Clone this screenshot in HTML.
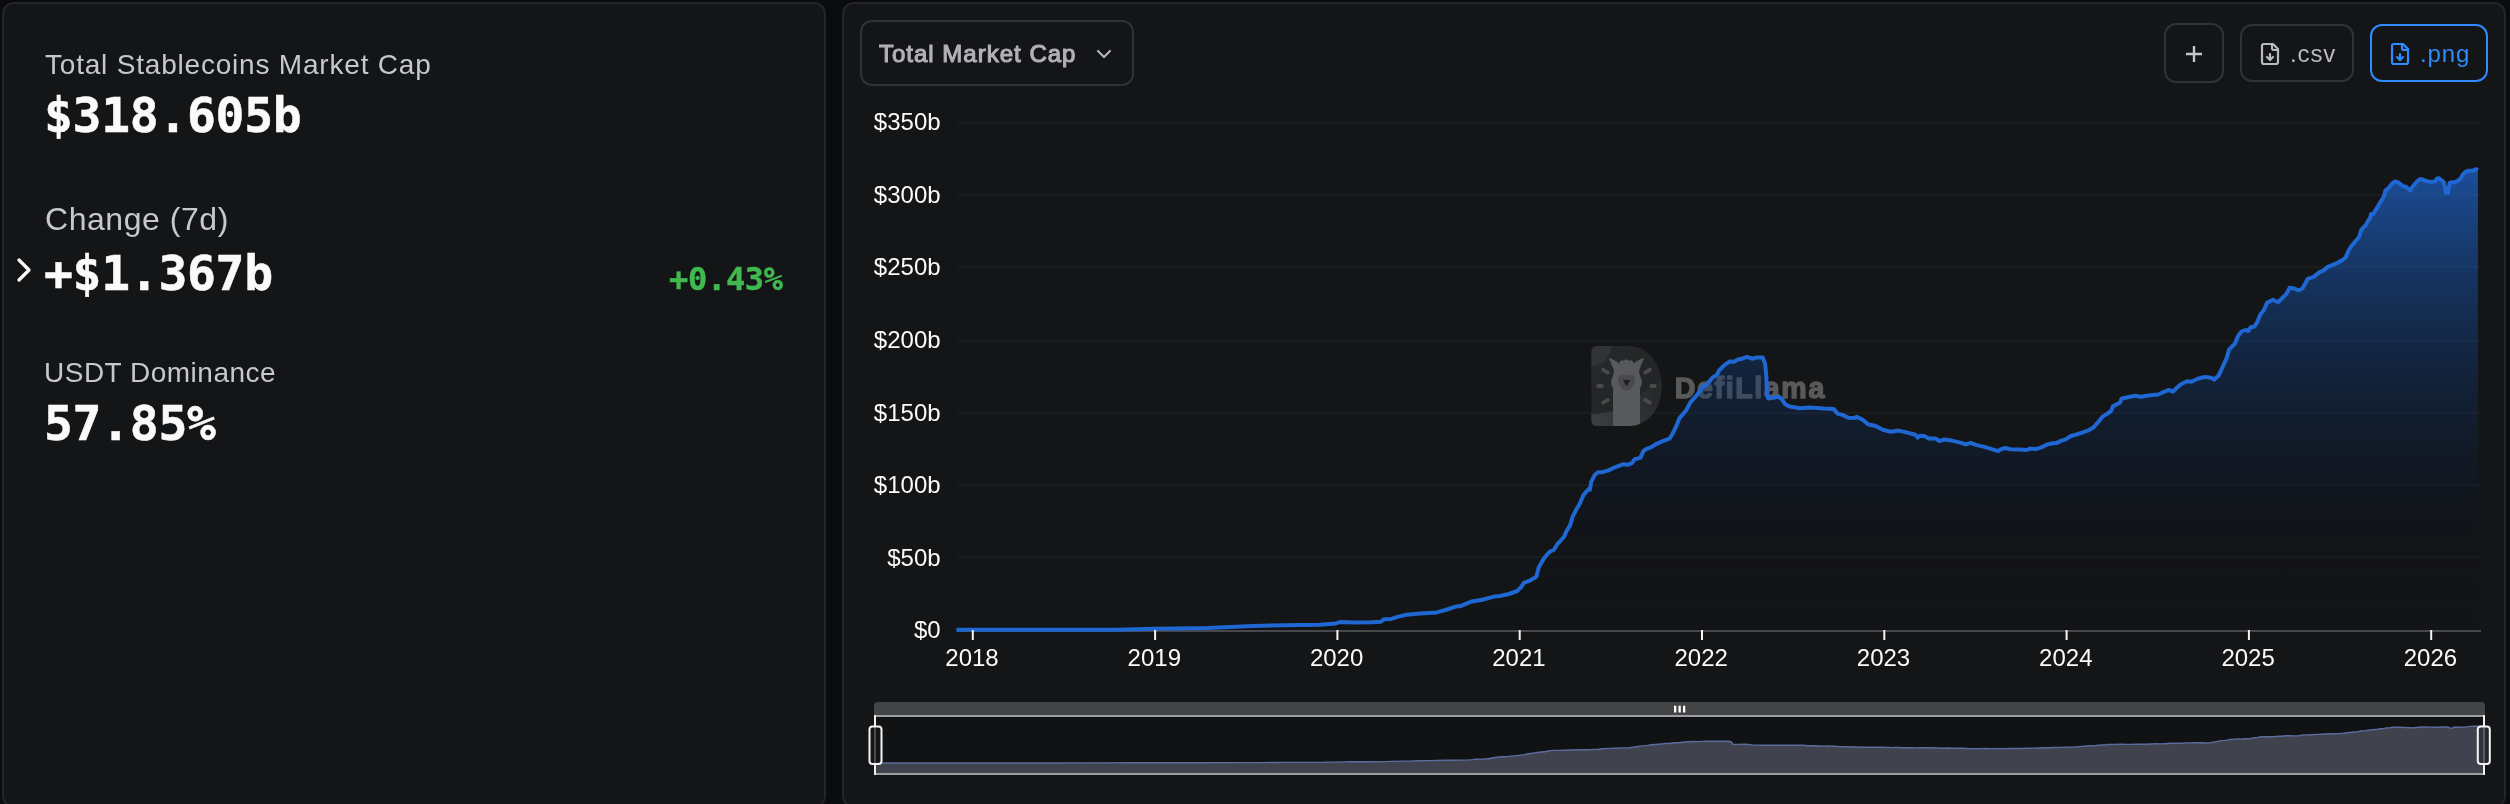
<!DOCTYPE html>
<html lang="en">
<head>
<meta charset="utf-8">
<title>Stablecoins - DefiLlama</title>
<style>
html,body{margin:0;padding:0;}
body{width:2510px;height:804px;overflow:hidden;position:relative;background:#0a0b0d;font-family:"Liberation Sans",sans-serif;color:#fafafa;}
.card{position:absolute;top:2px;height:806px;box-sizing:border-box;border:2px solid #232527;border-radius:12px;background:#141517;}
#left{left:2px;width:824px;}
#right{left:842px;width:1664px;}
.t{position:absolute;white-space:nowrap;line-height:1;will-change:transform;}
.lbl{font-family:"Liberation Sans",sans-serif;color:#c6c8cb;font-weight:400;}
.num{font-family:"DejaVu Sans Mono","Liberation Mono",monospace;font-weight:700;color:#fafafa;font-size:48px;letter-spacing:-0.3px;-webkit-text-stroke:0.5px #fafafa;}
.btn{position:absolute;box-sizing:border-box;border:2px solid #2f3336;border-radius:12px;color:#b4b6ba;}
svg{position:absolute;left:0;top:0;}
svg text{font-family:"Liberation Sans",sans-serif;}
</style>
</head>
<body>
<div class="card" id="left"></div>
<div class="card" id="right"></div>

<!-- left stats -->
<div class="t lbl" id="l1" style="left:45px;top:51.2px;font-size:28px;letter-spacing:0.8px;">Total Stablecoins Market Cap</div>
<div class="t num" id="n1" style="left:43.5px;top:90.5px;">$318.605b</div>

<svg id="chev" width="40" height="40" viewBox="0 0 24 24" style="left:4px;top:250px" fill="none" stroke="#fafafa" stroke-width="2" stroke-linecap="round" stroke-linejoin="round"><path d="m9 18 6-6-6-6"/></svg>
<div class="t lbl" id="l2" style="left:44.500px;top:202.5px;font-size:32px;letter-spacing:0.54px;">Change (7d)</div>
<div class="t num" id="n2" style="left:44px;top:248.5px;">+$1.367b</div>
<div class="t num" id="p2" style="left:669px;top:263px;font-size:32px;color:#3fb950;-webkit-text-stroke:0.4px #3fb950;">+0.43%</div>

<div class="t lbl" id="l3" style="left:44px;top:359.1px;font-size:28px;letter-spacing:0.5px;">USDT Dominance</div>
<div class="t num" id="n3" style="left:43.5px;top:398.5px;">57.85%</div>

<!-- toolbar -->
<div class="btn" id="sel" style="left:860px;top:20px;width:274px;height:66px;">
  <div class="t" id="seltxt" style="left:17px;top:19.5px;font-size:24px;font-weight:400;letter-spacing:1.0px;color:#b1b2b4;-webkit-text-stroke:1.1px #b1b2b4;">Total Market Cap</div>
  <svg width="24" height="24" viewBox="0 0 24 24" style="left:229.5px;top:19.5px" fill="none" stroke="#b1b2b4" stroke-width="2.2" stroke-linecap="round" stroke-linejoin="round"><path d="m6 9 6 6 6-6"/></svg>
</div>
<div class="btn" id="plus" style="left:2164px;top:23px;width:60px;height:60px;">
  <svg width="24" height="24" viewBox="0 0 24 24" style="left:16px;top:16.5px" fill="none" stroke="#c4c6c9" stroke-width="2.4" stroke-linecap="butt"><path d="M4 12h16M12 4v16"/></svg>
</div>
<div class="btn" id="csv" style="left:2240px;top:24px;width:114px;height:58px;">
  <svg width="24" height="24" viewBox="0 0 24 24" style="left:16px;top:16px" fill="none" stroke="#b8babd" stroke-width="2.2" stroke-linecap="round" stroke-linejoin="round"><path d="M15 2H6a2 2 0 0 0-2 2v16a2 2 0 0 0 2 2h12a2 2 0 0 0 2-2V7Z"/><path d="M14 2v4a2 2 0 0 0 2 2h4"/><path d="M12 18v-6"/><path d="m9 15 3 3 3-3"/></svg>
  <div class="t" id="csvtxt" style="left:47.500px;top:15.5px;font-size:24px;letter-spacing:0.9px;color:#b8babd;">.csv</div>
</div>
<div class="btn" id="png" style="left:2370px;top:24px;width:118px;height:58px;border-color:#2f8bff;color:#2f8bff;">
  <svg width="24" height="24" viewBox="0 0 24 24" style="left:16px;top:16px" fill="none" stroke="#2f8bff" stroke-width="2.2" stroke-linecap="round" stroke-linejoin="round"><path d="M15 2H6a2 2 0 0 0-2 2v16a2 2 0 0 0 2 2h12a2 2 0 0 0 2-2V7Z"/><path d="M14 2v4a2 2 0 0 0 2 2h4"/><path d="M12 18v-6"/><path d="m9 15 3 3 3-3"/></svg>
  <div class="t" id="pngtxt" style="left:47.500px;top:15.5px;font-size:24px;letter-spacing:0.9px;color:#2f8bff;">.png</div>
</div>

<!-- chart -->
<svg id="chart" width="2510" height="804" viewBox="0 0 2510 804">
<defs>
<linearGradient id="ag" gradientUnits="userSpaceOnUse" x1="0" y1="169" x2="0" y2="631">
<stop offset="0" stop-color="#1f67d2" stop-opacity="0.7"/>
<stop offset="1" stop-color="#000000" stop-opacity="0"/>
</linearGradient>
<linearGradient id="dg" gradientUnits="userSpaceOnUse" x1="1591" y1="346" x2="1661" y2="426">
<stop offset="0" stop-color="#28292b"/><stop offset="1" stop-color="#202224"/>
</linearGradient>
<linearGradient id="dg2" gradientUnits="userSpaceOnUse" x1="1595" y1="426" x2="1650" y2="385">
<stop offset="0" stop-color="#3b3d3e"/><stop offset="1" stop-color="#28292b"/>
</linearGradient>
<clipPath id="dclip"><path d="M1597,346 H1628 C1649,346 1661.5,364 1661.5,386 C1661.5,408 1649,426 1628,426 H1597 Q1591.4,426 1591.4,420 V352 Q1591.4,346 1597,346 Z"/></clipPath>
</defs>
<g id="grid">
<rect x="957" y="122" width="1524" height="2" fill="#1b1c1f"/>
<rect x="957" y="194" width="1524" height="2" fill="#1b1c1f"/>
<rect x="957" y="266" width="1524" height="2" fill="#1b1c1f"/>
<rect x="957" y="340" width="1524" height="2" fill="#1b1c1f"/>
<rect x="957" y="412" width="1524" height="2" fill="#1b1c1f"/>
<rect x="957" y="484" width="1524" height="2" fill="#1b1c1f"/>
<rect x="957" y="556" width="1524" height="2" fill="#1b1c1f"/>
</g>
<g id="ylab" font-size="24" fill="#fafafa">
<text x="940.6" y="130.3" text-anchor="end">$350b</text>
<text x="940.6" y="202.9" text-anchor="end">$300b</text>
<text x="940.6" y="275.4" text-anchor="end">$250b</text>
<text x="940.6" y="348.0" text-anchor="end">$200b</text>
<text x="940.6" y="420.6" text-anchor="end">$150b</text>
<text x="940.6" y="493.2" text-anchor="end">$100b</text>
<text x="940.6" y="565.7" text-anchor="end">$50b</text>
<text x="940.6" y="638.3" text-anchor="end">$0</text>
</g>
<!-- watermark -->
<g id="wm">
<g clip-path="url(#dclip)">
<rect x="1591" y="346" width="71" height="80" fill="url(#dg)"/>
<circle cx="1591" cy="346" r="20" fill="#313335"/>
<path d="M1591,414 C1606,413.500 1619,410 1629,403 L1662,379 V427 H1591 Z" fill="url(#dg2)"/>
<g stroke="#484a4b" stroke-width="3.8" stroke-linecap="round">
<path d="M1603.2,369.8 L1607.8,372.6"/><path d="M1598.3,386 L1601.7,386"/><path d="M1603.2,402.7 L1607.8,399.9"/>
<path d="M1649.8,369.8 L1645.2,372.6"/><path d="M1654.7,386 L1651.3,386"/><path d="M1649.8,402.7 L1645.2,399.9"/>
</g>
<path d="M1613,427 V388 C1611,386 1610.500,381 1612,378.500 C1613,376 1614,373 1613.800,370 L1608.900,358 C1612,358.500 1617,361.500 1619.200,363.500 C1620,360.500 1622.500,359.500 1624,361 C1625,359 1628,359 1629,361 C1630.500,359.500 1633,360.500 1633.800,363.500 C1636,361.500 1641,358.500 1644.100,358 L1639.200,370 C1639,373 1640,376 1641,378.500 C1642.500,381 1642,386 1640,388 V427 Z" fill="#57595a"/>
<path d="M1618.500,376 C1620,374.500 1622,376 1623,375 C1624.500,374 1626,375.500 1626.500,375.500 C1627,375.500 1628.500,374 1630,375 C1631,376 1633,374.500 1634.500,376 C1636,381 1633,390.500 1626.500,390.500 C1620,390.500 1617,381 1618.500,376 Z" fill="#48494b"/>
<path d="M1622.900,380 H1630.400 L1626.600,386.200 Z" fill="#1c1d1f"/>
</g>
<text id="wmt" x="1674.8" y="398" font-size="28.6" font-weight="700" fill="#58595a" stroke="#58595a" stroke-width="1.4" stroke-linejoin="round" textLength="149.5" lengthAdjust="spacing">DefiLlama</text>
</g>
<rect x="957" y="630" width="1524" height="2" fill="#47484b"/>
<path id="area" d="M956.4,629.8 L1116.5,629.8 L1154.4,628.8 L1207.4,628.0 L1252.8,626.0 L1300.0,624.9 L1320.0,624.7 L1335.7,623.4 L1340.0,622.1 L1354.8,622.4 L1372.2,622.2 L1380.9,621.8 L1384.0,619.2 L1391.4,618.9 L1398.4,616.6 L1406.2,614.8 L1420.1,613.5 L1436.7,612.4 L1445.4,610.0 L1455.8,606.6 L1461.0,605.9 L1470.6,601.8 L1481.1,600.0 L1494.1,596.6 L1500.0,596.0 L1509.0,594.0 L1517.2,591.0 L1520.9,587.3 L1523.9,582.8 L1529.9,580.6 L1535.1,577.6 L1536.6,576.1 L1538.8,567.2 L1544.0,558.2 L1548.5,553.0 L1550.0,551.5 L1553.7,550.0 L1557.5,544.0 L1564.2,536.6 L1566.4,531.3 L1570.1,525.4 L1572.5,517.0 L1575.6,510.8 L1579.3,504.6 L1583.7,494.6 L1588.7,489.0 L1589.9,489.7 L1591.1,482.2 L1594.9,474.7 L1598.0,472.2 L1602.3,472.2 L1608.6,470.4 L1614.8,467.3 L1623.5,464.2 L1627.8,464.8 L1632.2,462.9 L1634.7,459.2 L1640.3,457.9 L1643.4,451.1 L1645.9,449.2 L1650.8,447.4 L1655.8,444.3 L1662.7,441.1 L1669.5,438.7 L1672.6,433.7 L1675.7,427.5 L1679.3,418.4 L1686.2,410.3 L1690.5,402.2 L1696.7,395.3 L1701.1,389.1 L1702.3,386.6 L1706.1,385.4 L1712.9,377.3 L1716.6,375.4 L1719.1,370.5 L1724.7,364.9 L1729.7,361.4 L1734.1,361.8 L1738.4,359.3 L1742.1,358.7 L1747.1,356.8 L1752.1,358.7 L1757.1,357.4 L1762.7,357.4 L1765.1,363.6 L1766.4,377.3 L1767.0,394.7 L1768.3,398.5 L1773.2,397.8 L1778.2,396.6 L1781.9,399.1 L1785.0,404.1 L1789.4,406.5 L1794.4,407.2 L1799.0,408.2 L1810.1,407.4 L1823.6,408.5 L1833.6,408.9 L1837.6,413.6 L1842.6,414.9 L1848.2,417.8 L1854.4,418.1 L1856.6,416.7 L1862.7,419.7 L1868.3,424.5 L1875.1,425.7 L1882.9,429.8 L1890.7,431.7 L1898.6,430.6 L1906.4,432.4 L1915.3,434.8 L1917.6,437.6 L1919.8,435.7 L1924.3,436.0 L1928.8,438.4 L1935.5,438.4 L1939.4,441.0 L1944.4,439.5 L1951.2,440.4 L1961.2,442.9 L1965.7,444.4 L1970.7,442.9 L1975.7,444.9 L1983.6,446.6 L1992.5,449.4 L1998.1,451.1 L2000.4,449.4 L2005.4,448.0 L2010.5,449.2 L2019.4,449.4 L2026.7,450.0 L2030.0,448.6 L2036.2,449.1 L2041.8,447.2 L2047.4,444.4 L2053.0,443.2 L2056.9,442.9 L2061.9,440.4 L2065.3,439.6 L2070.9,436.0 L2076.5,434.5 L2082.1,432.6 L2087.7,430.7 L2093.3,427.6 L2097.8,422.5 L2102.2,416.9 L2106.7,414.1 L2111.2,410.8 L2112.9,406.3 L2116.2,404.6 L2120.2,402.4 L2121.5,398.8 L2127.5,397.2 L2134.9,395.7 L2140.9,396.7 L2149.9,395.2 L2158.1,394.5 L2163.3,392.2 L2168.5,390.0 L2173.0,391.5 L2176.0,388.5 L2181.2,384.0 L2187.2,381.3 L2191.6,381.8 L2197.6,378.8 L2205.1,376.9 L2211.0,377.8 L2214.0,379.6 L2218.5,375.8 L2223.0,366.1 L2226.7,357.9 L2229.0,349.7 L2231.9,346.7 L2234.9,343.7 L2237.9,336.3 L2241.6,331.5 L2245.4,330.0 L2248.4,331.0 L2250.6,327.3 L2254.3,326.6 L2257.3,322.1 L2260.3,314.6 L2264.0,310.1 L2267.0,302.7 L2273.0,299.7 L2278.2,302.2 L2284.2,296.0 L2286.0,294.5 L2289.7,287.8 L2294.2,288.5 L2298.7,290.3 L2302.4,288.5 L2305.4,283.3 L2307.6,278.8 L2313.6,276.9 L2319.6,272.1 L2323.3,270.6 L2327.8,266.9 L2335.2,263.9 L2341.2,260.9 L2345.7,257.5 L2347.9,251.9 L2350.9,246.7 L2354.6,242.2 L2359.1,237.0 L2361.3,229.6 L2365.8,225.1 L2368.1,220.6 L2370.3,217.6 L2371.0,213.9 L2373.3,213.9 L2377.0,207.9 L2380.5,202.0 L2383.8,196.8 L2385.3,190.8 L2388.7,187.8 L2392.0,183.7 L2394.7,181.5 L2398.4,182.5 L2401.0,184.5 L2402.9,186.3 L2405.9,186.7 L2408.8,189.3 L2410.7,190.4 L2412.6,186.7 L2416.3,182.2 L2419.7,179.3 L2422.3,179.3 L2426.7,181.1 L2430.5,181.9 L2435.0,181.5 L2436.8,178.9 L2438.7,178.1 L2441.3,180.0 L2443.9,182.2 L2445.0,187.8 L2445.8,192.7 L2448.0,193.1 L2448.8,187.8 L2449.5,183.0 L2452.1,182.2 L2455.1,182.2 L2458.1,180.4 L2460.7,178.5 L2462.9,174.4 L2465.6,171.8 L2468.5,170.7 L2473.0,170.5 L2476.7,169.2 L2477.9,169.9 L2477.9,631 L956.4,631 Z" fill="url(#ag)"/>
<path id="line" d="M956.4,629.8 L1116.5,629.8 L1154.4,628.8 L1207.4,628.0 L1252.8,626.0 L1300.0,624.9 L1320.0,624.7 L1335.7,623.4 L1340.0,622.1 L1354.8,622.4 L1372.2,622.2 L1380.9,621.8 L1384.0,619.2 L1391.4,618.9 L1398.4,616.6 L1406.2,614.8 L1420.1,613.5 L1436.7,612.4 L1445.4,610.0 L1455.8,606.6 L1461.0,605.9 L1470.6,601.8 L1481.1,600.0 L1494.1,596.6 L1500.0,596.0 L1509.0,594.0 L1517.2,591.0 L1520.9,587.3 L1523.9,582.8 L1529.9,580.6 L1535.1,577.6 L1536.6,576.1 L1538.8,567.2 L1544.0,558.2 L1548.5,553.0 L1550.0,551.5 L1553.7,550.0 L1557.5,544.0 L1564.2,536.6 L1566.4,531.3 L1570.1,525.4 L1572.5,517.0 L1575.6,510.8 L1579.3,504.6 L1583.7,494.6 L1588.7,489.0 L1589.9,489.7 L1591.1,482.2 L1594.9,474.7 L1598.0,472.2 L1602.3,472.2 L1608.6,470.4 L1614.8,467.3 L1623.5,464.2 L1627.8,464.8 L1632.2,462.9 L1634.7,459.2 L1640.3,457.9 L1643.4,451.1 L1645.9,449.2 L1650.8,447.4 L1655.8,444.3 L1662.7,441.1 L1669.5,438.7 L1672.6,433.7 L1675.7,427.5 L1679.3,418.4 L1686.2,410.3 L1690.5,402.2 L1696.7,395.3 L1701.1,389.1 L1702.3,386.6 L1706.1,385.4 L1712.9,377.3 L1716.6,375.4 L1719.1,370.5 L1724.7,364.9 L1729.7,361.4 L1734.1,361.8 L1738.4,359.3 L1742.1,358.7 L1747.1,356.8 L1752.1,358.7 L1757.1,357.4 L1762.7,357.4 L1765.1,363.6 L1766.4,377.3 L1767.0,394.7 L1768.3,398.5 L1773.2,397.8 L1778.2,396.6 L1781.9,399.1 L1785.0,404.1 L1789.4,406.5 L1794.4,407.2 L1799.0,408.2 L1810.1,407.4 L1823.6,408.5 L1833.6,408.9 L1837.6,413.6 L1842.6,414.9 L1848.2,417.8 L1854.4,418.1 L1856.6,416.7 L1862.7,419.7 L1868.3,424.5 L1875.1,425.7 L1882.9,429.8 L1890.7,431.7 L1898.6,430.6 L1906.4,432.4 L1915.3,434.8 L1917.6,437.6 L1919.8,435.7 L1924.3,436.0 L1928.8,438.4 L1935.5,438.4 L1939.4,441.0 L1944.4,439.5 L1951.2,440.4 L1961.2,442.9 L1965.7,444.4 L1970.7,442.9 L1975.7,444.9 L1983.6,446.6 L1992.5,449.4 L1998.1,451.1 L2000.4,449.4 L2005.4,448.0 L2010.5,449.2 L2019.4,449.4 L2026.7,450.0 L2030.0,448.6 L2036.2,449.1 L2041.8,447.2 L2047.4,444.4 L2053.0,443.2 L2056.9,442.9 L2061.9,440.4 L2065.3,439.6 L2070.9,436.0 L2076.5,434.5 L2082.1,432.6 L2087.7,430.7 L2093.3,427.6 L2097.8,422.5 L2102.2,416.9 L2106.7,414.1 L2111.2,410.8 L2112.9,406.3 L2116.2,404.6 L2120.2,402.4 L2121.5,398.8 L2127.5,397.2 L2134.9,395.7 L2140.9,396.7 L2149.9,395.2 L2158.1,394.5 L2163.3,392.2 L2168.5,390.0 L2173.0,391.5 L2176.0,388.5 L2181.2,384.0 L2187.2,381.3 L2191.6,381.8 L2197.6,378.8 L2205.1,376.9 L2211.0,377.8 L2214.0,379.6 L2218.5,375.8 L2223.0,366.1 L2226.7,357.9 L2229.0,349.7 L2231.9,346.7 L2234.9,343.7 L2237.9,336.3 L2241.6,331.5 L2245.4,330.0 L2248.4,331.0 L2250.6,327.3 L2254.3,326.6 L2257.3,322.1 L2260.3,314.6 L2264.0,310.1 L2267.0,302.7 L2273.0,299.7 L2278.2,302.2 L2284.2,296.0 L2286.0,294.5 L2289.7,287.8 L2294.2,288.5 L2298.7,290.3 L2302.4,288.5 L2305.4,283.3 L2307.6,278.8 L2313.6,276.9 L2319.6,272.1 L2323.3,270.6 L2327.8,266.9 L2335.2,263.9 L2341.2,260.9 L2345.7,257.5 L2347.9,251.9 L2350.9,246.7 L2354.6,242.2 L2359.1,237.0 L2361.3,229.6 L2365.8,225.1 L2368.1,220.6 L2370.3,217.6 L2371.0,213.9 L2373.3,213.9 L2377.0,207.9 L2380.5,202.0 L2383.8,196.8 L2385.3,190.8 L2388.7,187.8 L2392.0,183.7 L2394.7,181.5 L2398.4,182.5 L2401.0,184.5 L2402.9,186.3 L2405.9,186.7 L2408.8,189.3 L2410.7,190.4 L2412.6,186.7 L2416.3,182.2 L2419.7,179.3 L2422.3,179.3 L2426.7,181.1 L2430.5,181.9 L2435.0,181.5 L2436.8,178.9 L2438.7,178.1 L2441.3,180.0 L2443.9,182.2 L2445.0,187.8 L2445.8,192.7 L2448.0,193.1 L2448.8,187.8 L2449.5,183.0 L2452.1,182.2 L2455.1,182.2 L2458.1,180.4 L2460.7,178.5 L2462.9,174.4 L2465.6,171.8 L2468.5,170.7 L2473.0,170.5 L2476.7,169.2 L2477.9,169.9" fill="none" stroke="#1f67d2" stroke-width="4" stroke-linejoin="round" stroke-linecap="butt"/>
<g id="xlab" font-size="24" fill="#fafafa">
<rect x="971.8" y="630" width="2" height="10" fill="#f4f4f5"/>
<text x="972.0" y="666.3" text-anchor="middle">2018</text>
<rect x="1154.1" y="630" width="2" height="10" fill="#f4f4f5"/>
<text x="1154.3" y="666.3" text-anchor="middle">2019</text>
<rect x="1336.4" y="630" width="2" height="10" fill="#f4f4f5"/>
<text x="1336.6" y="666.3" text-anchor="middle">2020</text>
<rect x="1518.7" y="630" width="2" height="10" fill="#f4f4f5"/>
<text x="1518.9" y="666.3" text-anchor="middle">2021</text>
<rect x="1701.0" y="630" width="2" height="10" fill="#f4f4f5"/>
<text x="1701.2" y="666.3" text-anchor="middle">2022</text>
<rect x="1883.3" y="630" width="2" height="10" fill="#f4f4f5"/>
<text x="1883.5" y="666.3" text-anchor="middle">2023</text>
<rect x="2065.6" y="630" width="2" height="10" fill="#f4f4f5"/>
<text x="2065.8" y="666.3" text-anchor="middle">2024</text>
<rect x="2247.9" y="630" width="2" height="10" fill="#f4f4f5"/>
<text x="2248.1" y="666.3" text-anchor="middle">2025</text>
<rect x="2430.2" y="630" width="2" height="10" fill="#f4f4f5"/>
<text x="2430.4" y="666.3" text-anchor="middle">2026</text>
</g>
<!-- data zoom slider -->
<g id="dz">
<path d="M874,715 V706 Q874,702 878,702 H2481 Q2485,702 2485,706 V715 Z" fill="#434446"/>
<g fill="#ffffff"><rect x="1674" y="705.700" width="2.300" height="6.800"/><rect x="1678.500" y="705.700" width="2.300" height="6.800"/><rect x="1683" y="705.700" width="2.300" height="6.800"/></g>
<rect x="875" y="717" width="1609" height="56" fill="#111214"/>
<path d="M876.0,763.0 L1045.2,763.0 L1085.3,762.9 L1141.3,762.8 L1189.3,762.7 L1239.1,762.6 L1260.3,762.6 L1276.9,762.5 L1281.4,762.4 L1297.0,762.4 L1315.4,762.4 L1324.6,762.3 L1327.9,762.1 L1335.7,762.1 L1343.1,761.9 L1351.4,761.8 L1366.1,761.7 L1383.6,761.6 L1392.8,761.4 L1403.8,761.1 L1409.3,761.1 L1419.4,760.7 L1430.5,760.6 L1444.3,760.3 L1450.5,760.3 L1460.0,760.1 L1468.7,759.9 L1472.6,759.6 L1475.8,759.2 L1482.1,759.1 L1487.6,758.8 L1489.2,758.7 L1491.5,758.0 L1497.0,757.3 L1501.8,756.8 L1503.3,756.7 L1507.3,756.6 L1511.3,756.1 L1518.4,755.5 L1520.7,755.1 L1524.6,754.6 L1527.1,754.0 L1530.4,753.5 L1534.3,753.0 L1539.0,752.2 L1544.2,751.7 L1545.5,751.8 L1546.8,751.2 L1550.8,750.6 L1554.1,750.4 L1558.6,750.4 L1565.3,750.2 L1571.8,750.0 L1581.0,749.8 L1585.6,749.8 L1590.2,749.6 L1592.9,749.4 L1598.8,749.2 L1602.1,748.7 L1604.7,748.6 L1609.9,748.4 L1615.2,748.2 L1622.5,747.9 L1629.6,747.7 L1632.9,747.3 L1636.2,746.8 L1640.0,746.1 L1647.3,745.4 L1651.8,744.8 L1658.4,744.2 L1663.0,743.7 L1664.3,743.5 L1668.3,743.5 L1675.5,742.8 L1679.4,742.7 L1682.1,742.3 L1688.0,741.8 L1693.3,741.5 L1697.9,741.6 L1702.5,741.4 L1706.4,741.3 L1711.7,741.2 L1716.9,741.3 L1722.2,741.2 L1728.1,741.2 L1730.7,741.7 L1732.0,742.8 L1732.7,744.2 L1734.1,744.5 L1739.2,744.4 L1744.5,744.3 L1748.4,744.5 L1751.7,744.9 L1756.4,745.1 L1761.6,745.2 L1766.5,745.3 L1778.2,745.2 L1792.5,745.3 L1803.1,745.3 L1807.3,745.7 L1812.6,745.8 L1818.5,746.0 L1825.1,746.1 L1827.4,746.0 L1833.8,746.2 L1839.7,746.6 L1846.9,746.7 L1855.2,747.0 L1863.4,747.2 L1871.8,747.1 L1880.0,747.2 L1889.4,747.4 L1891.8,747.6 L1894.2,747.5 L1898.9,747.5 L1903.7,747.7 L1910.8,747.7 L1914.9,747.9 L1920.2,747.8 L1927.4,747.8 L1937.9,748.0 L1942.7,748.2 L1948.0,748.0 L1953.2,748.2 L1961.6,748.3 L1971.0,748.6 L1976.9,748.7 L1979.4,748.6 L1984.6,748.5 L1990.0,748.6 L1999.4,748.6 L2007.1,748.6 L2010.6,748.5 L2017.2,748.5 L2023.1,748.4 L2029.0,748.2 L2034.9,748.1 L2039.1,748.0 L2044.3,747.8 L2047.9,747.8 L2053.9,747.5 L2059.8,747.4 L2065.7,747.2 L2071.6,747.1 L2077.5,746.8 L2082.3,746.4 L2086.9,746.0 L2091.7,745.7 L2096.5,745.5 L2098.2,745.1 L2101.7,745.0 L2106.0,744.8 L2107.3,744.5 L2113.7,744.4 L2121.5,744.3 L2127.8,744.4 L2137.4,744.2 L2146.0,744.2 L2151.5,744.0 L2157.0,743.8 L2161.8,743.9 L2164.9,743.7 L2170.4,743.3 L2176.8,743.1 L2181.4,743.2 L2187.8,742.9 L2195.7,742.8 L2201.9,742.8 L2205.1,743.0 L2209.9,742.7 L2214.6,741.9 L2218.5,741.3 L2220.9,740.6 L2224.0,740.4 L2227.2,740.1 L2230.4,739.5 L2234.3,739.1 L2238.3,739.0 L2241.5,739.1 L2243.8,738.8 L2247.7,738.8 L2250.9,738.4 L2254.0,737.8 L2257.9,737.4 L2261.1,736.8 L2267.5,736.6 L2272.9,736.8 L2279.3,736.3 L2281.2,736.2 L2285.1,735.7 L2289.9,735.7 L2294.6,735.9 L2298.5,735.7 L2301.7,735.3 L2304.0,734.9 L2310.4,734.8 L2316.7,734.4 L2320.6,734.3 L2325.4,734.0 L2333.2,733.7 L2339.5,733.5 L2344.3,733.2 L2346.6,732.8 L2349.8,732.4 L2353.7,732.0 L2358.4,731.6 L2360.8,731.0 L2365.5,730.6 L2368.0,730.3 L2370.3,730.0 L2371.0,729.7 L2373.5,729.7 L2377.4,729.3 L2381.1,728.8 L2384.6,728.4 L2386.1,727.9 L2389.7,727.7 L2393.2,727.3 L2396.1,727.2 L2400.0,727.2 L2402.7,727.4 L2404.7,727.5 L2407.9,727.6 L2411.0,727.8 L2413.0,727.9 L2415.0,727.6 L2418.9,727.2 L2422.5,727.0 L2425.2,727.0 L2429.9,727.1 L2433.9,727.2 L2438.7,727.2 L2440.6,727.0 L2442.6,726.9 L2445.3,727.0 L2448.1,727.2 L2449.2,727.7 L2450.1,728.1 L2452.4,728.1 L2453.2,727.7 L2454.0,727.3 L2456.7,727.2 L2459.9,727.2 L2463.1,727.1 L2465.8,726.9 L2468.1,726.6 L2471.0,726.4 L2474.1,726.3 L2478.8,726.3 L2482.7,726.2 L2484.0,726.2 L2484.0,773 L876.0,773 Z" fill="#40434d"/>
<path d="M876.0,763.0 L1045.2,763.0 L1085.3,762.9 L1141.3,762.8 L1189.3,762.7 L1239.1,762.6 L1260.3,762.6 L1276.9,762.5 L1281.4,762.4 L1297.0,762.4 L1315.4,762.4 L1324.6,762.3 L1327.9,762.1 L1335.7,762.1 L1343.1,761.9 L1351.4,761.8 L1366.1,761.7 L1383.6,761.6 L1392.8,761.4 L1403.8,761.1 L1409.3,761.1 L1419.4,760.7 L1430.5,760.6 L1444.3,760.3 L1450.5,760.3 L1460.0,760.1 L1468.7,759.9 L1472.6,759.6 L1475.8,759.2 L1482.1,759.1 L1487.6,758.8 L1489.2,758.7 L1491.5,758.0 L1497.0,757.3 L1501.8,756.8 L1503.3,756.7 L1507.3,756.6 L1511.3,756.1 L1518.4,755.5 L1520.7,755.1 L1524.6,754.6 L1527.1,754.0 L1530.4,753.5 L1534.3,753.0 L1539.0,752.2 L1544.2,751.7 L1545.5,751.8 L1546.8,751.2 L1550.8,750.6 L1554.1,750.4 L1558.6,750.4 L1565.3,750.2 L1571.8,750.0 L1581.0,749.8 L1585.6,749.8 L1590.2,749.6 L1592.9,749.4 L1598.8,749.2 L1602.1,748.7 L1604.7,748.6 L1609.9,748.4 L1615.2,748.2 L1622.5,747.9 L1629.6,747.7 L1632.9,747.3 L1636.2,746.8 L1640.0,746.1 L1647.3,745.4 L1651.8,744.8 L1658.4,744.2 L1663.0,743.7 L1664.3,743.5 L1668.3,743.5 L1675.5,742.8 L1679.4,742.7 L1682.1,742.3 L1688.0,741.8 L1693.3,741.5 L1697.9,741.6 L1702.5,741.4 L1706.4,741.3 L1711.7,741.2 L1716.9,741.3 L1722.2,741.2 L1728.1,741.2 L1730.7,741.7 L1732.0,742.8 L1732.7,744.2 L1734.1,744.5 L1739.2,744.4 L1744.5,744.3 L1748.4,744.5 L1751.7,744.9 L1756.4,745.1 L1761.6,745.2 L1766.5,745.3 L1778.2,745.2 L1792.5,745.3 L1803.1,745.3 L1807.3,745.7 L1812.6,745.8 L1818.5,746.0 L1825.1,746.1 L1827.4,746.0 L1833.8,746.2 L1839.7,746.6 L1846.9,746.7 L1855.2,747.0 L1863.4,747.2 L1871.8,747.1 L1880.0,747.2 L1889.4,747.4 L1891.8,747.6 L1894.2,747.5 L1898.9,747.5 L1903.7,747.7 L1910.8,747.7 L1914.9,747.9 L1920.2,747.8 L1927.4,747.8 L1937.9,748.0 L1942.7,748.2 L1948.0,748.0 L1953.2,748.2 L1961.6,748.3 L1971.0,748.6 L1976.9,748.7 L1979.4,748.6 L1984.6,748.5 L1990.0,748.6 L1999.4,748.6 L2007.1,748.6 L2010.6,748.5 L2017.2,748.5 L2023.1,748.4 L2029.0,748.2 L2034.9,748.1 L2039.1,748.0 L2044.3,747.8 L2047.9,747.8 L2053.9,747.5 L2059.8,747.4 L2065.7,747.2 L2071.6,747.1 L2077.5,746.8 L2082.3,746.4 L2086.9,746.0 L2091.7,745.7 L2096.5,745.5 L2098.2,745.1 L2101.7,745.0 L2106.0,744.8 L2107.3,744.5 L2113.7,744.4 L2121.5,744.3 L2127.8,744.4 L2137.4,744.2 L2146.0,744.2 L2151.5,744.0 L2157.0,743.8 L2161.8,743.9 L2164.9,743.7 L2170.4,743.3 L2176.8,743.1 L2181.4,743.2 L2187.8,742.9 L2195.7,742.8 L2201.9,742.8 L2205.1,743.0 L2209.9,742.7 L2214.6,741.9 L2218.5,741.3 L2220.9,740.6 L2224.0,740.4 L2227.2,740.1 L2230.4,739.5 L2234.3,739.1 L2238.3,739.0 L2241.5,739.1 L2243.8,738.8 L2247.7,738.8 L2250.9,738.4 L2254.0,737.8 L2257.9,737.4 L2261.1,736.8 L2267.5,736.6 L2272.9,736.8 L2279.3,736.3 L2281.2,736.2 L2285.1,735.7 L2289.9,735.7 L2294.6,735.9 L2298.5,735.7 L2301.7,735.3 L2304.0,734.9 L2310.4,734.8 L2316.7,734.4 L2320.6,734.3 L2325.4,734.0 L2333.2,733.7 L2339.5,733.5 L2344.3,733.2 L2346.6,732.8 L2349.8,732.4 L2353.7,732.0 L2358.4,731.6 L2360.8,731.0 L2365.5,730.6 L2368.0,730.3 L2370.3,730.0 L2371.0,729.7 L2373.5,729.7 L2377.4,729.3 L2381.1,728.8 L2384.6,728.4 L2386.1,727.9 L2389.7,727.7 L2393.2,727.3 L2396.1,727.2 L2400.0,727.2 L2402.7,727.4 L2404.7,727.5 L2407.9,727.6 L2411.0,727.8 L2413.0,727.9 L2415.0,727.6 L2418.9,727.2 L2422.5,727.0 L2425.2,727.0 L2429.9,727.1 L2433.9,727.2 L2438.7,727.2 L2440.6,727.0 L2442.6,726.9 L2445.3,727.0 L2448.1,727.2 L2449.2,727.7 L2450.1,728.1 L2452.4,728.1 L2453.2,727.7 L2454.0,727.3 L2456.7,727.2 L2459.9,727.2 L2463.1,727.1 L2465.8,726.9 L2468.1,726.6 L2471.0,726.4 L2474.1,726.3 L2478.8,726.3 L2482.7,726.2 L2484.0,726.2" fill="none" stroke="#5d6c9f" stroke-width="1.4"/>
<rect x="874" y="715" width="1611" height="2" fill="#9d9ea0"/>
<rect x="874" y="773" width="1611" height="2" fill="#9d9ea0"/>
<rect x="874" y="715" width="2" height="60" fill="#f0f0f0"/>
<rect x="2483" y="715" width="2" height="60" fill="#f0f0f0"/>
<rect x="869.500" y="726.500" width="12" height="37.500" rx="3" fill="#141517" fill-opacity="0.75" stroke="#f4f4f4" stroke-width="2"/>
<rect x="2477.800" y="726.500" width="12" height="37.500" rx="3" fill="#2a2c33" fill-opacity="0.75" stroke="#f4f4f4" stroke-width="2"/>
</g>
</svg>
<script>
(function(){var w=window.innerWidth,h=window.innerHeight;if(!w||!h)return;var kx=w/2510,ky=h/804;if(Math.abs(kx-1)>0.01&&Math.abs(kx-ky)<0.02){document.documentElement.style.zoom=kx;}})();
</script>
</body>
</html>
